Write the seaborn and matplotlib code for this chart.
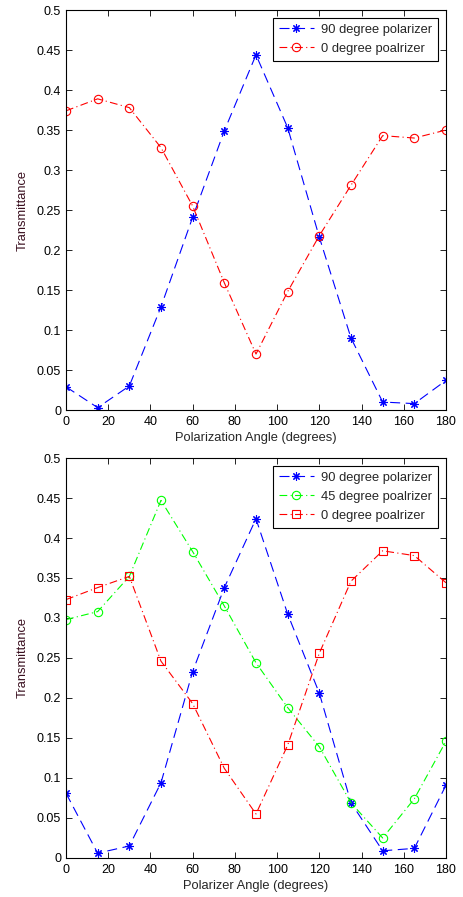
import pandas as pd
import matplotlib
matplotlib.use("Agg")
import matplotlib.pyplot as plt
import matplotlib.ticker as mticker
import seaborn as sns

# dados
angles = [0, 15, 30, 45, 60, 75, 90, 105, 120, 135, 150, 165, 180]

# grafico de cima
top_90 = [0.029, 0.003, 0.030, 0.129, 0.241, 0.349, 0.444, 0.353, 0.216, 0.090, 0.010, 0.008, 0.037]
top_0 = [0.374, 0.389, 0.378, 0.328, 0.255, 0.159, 0.070, 0.148, 0.218, 0.281, 0.343, 0.340, 0.350]

# grafico de baixo
bot_90 = [0.081, 0.006, 0.015, 0.094, 0.233, 0.338, 0.424, 0.305, 0.206, 0.069, 0.009, 0.012, 0.091]
bot_45 = [0.298, 0.308, 0.352, 0.447, 0.383, 0.315, 0.244, 0.188, 0.139, 0.069, 0.025, 0.074, 0.146]
bot_0 = [0.323, 0.338, 0.352, 0.246, 0.193, 0.112, 0.055, 0.141, 0.256, 0.346, 0.384, 0.378, 0.344]

x_ticks = list(range(0, 181, 20))
y_ticks = [i * 0.05 for i in range(11)]

sns.set_style("ticks")
plt.rcParams['font.family'] = ['Liberation Sans', 'DejaVu Sans']
plt.rcParams['xtick.direction'] = 'in'
plt.rcParams['ytick.direction'] = 'in'

fig = plt.figure(figsize=(4.64, 8.97), dpi=100)
ax1 = fig.add_axes([0.1422, 0.5429, 0.8190, 0.4459])
ax2 = fig.add_axes([0.1422, 0.0435, 0.8190, 0.4459])

asterisco = (8, 2, 0)
series_top = [
    (top_90, 'blue', '--', asterisco, '90 degree polarizer'),
    (top_0, 'red', '-.', 'o', '0 degree poalrizer'),
]
series_bot = [
    (bot_90, 'blue', '--', asterisco, '90 degree polarizer'),
    (bot_45, '#00ff00', '-.', 'o', '45 degree poalrizer'),
    (bot_0, 'red', '-.', 's', '0 degree poalrizer'),
]


def desenha(ax, series, xlabel):
    for valores, cor, estilo, marcador, nome in series:
        df = pd.DataFrame({'angulo': angles, 'T': valores})
        dashes = (9, 5) if estilo == '--' else (7, 3, 1, 3)
        sns.lineplot(data=df, x='angulo', y='T', ax=ax, color=cor, dashes=False,
                     linewidth=0.8, marker=marcador, markersize=6,
                     markerfacecolor='none', markeredgecolor=cor, markeredgewidth=0.8,
                     label=nome)
        ax.lines[-1].set_dashes(dashes)
    ax.set_xlim(0, 180)
    ax.set_ylim(0, 0.5)
    ax.set_xticks(x_ticks)
    ax.set_yticks(y_ticks)
    ax.yaxis.set_major_formatter(mticker.FuncFormatter(lambda v, p: f"{v:g}"))
    ax.tick_params(axis='both', which='both', top=True, right=True, length=4,
                   width=0.6, labelsize=9, colors='black')
    ax.tick_params(axis='x', pad=4)
    for s in ax.spines.values():
        s.set_visible(True)
        s.set_linewidth(0.8)
        s.set_color('black')
    ax.set_xlabel(xlabel, fontsize=9.3, labelpad=3)
    ax.set_ylabel('Transmittance', fontsize=9.3, color='#3a1020', labelpad=6)
    leg = ax.legend(loc='upper right', fontsize=9.3, fancybox=False, framealpha=1,
                    edgecolor='black', borderaxespad=0.6, handlelength=2.7,
                    handletextpad=0.6, borderpad=0.45, labelspacing=0.55)
    leg.get_frame().set_linewidth(0.8)


desenha(ax1, series_top, 'Polarization Angle (degrees)')
desenha(ax2, series_bot, 'Polarizer Angle (degrees)')

plt.savefig('out.png', dpi=100)
